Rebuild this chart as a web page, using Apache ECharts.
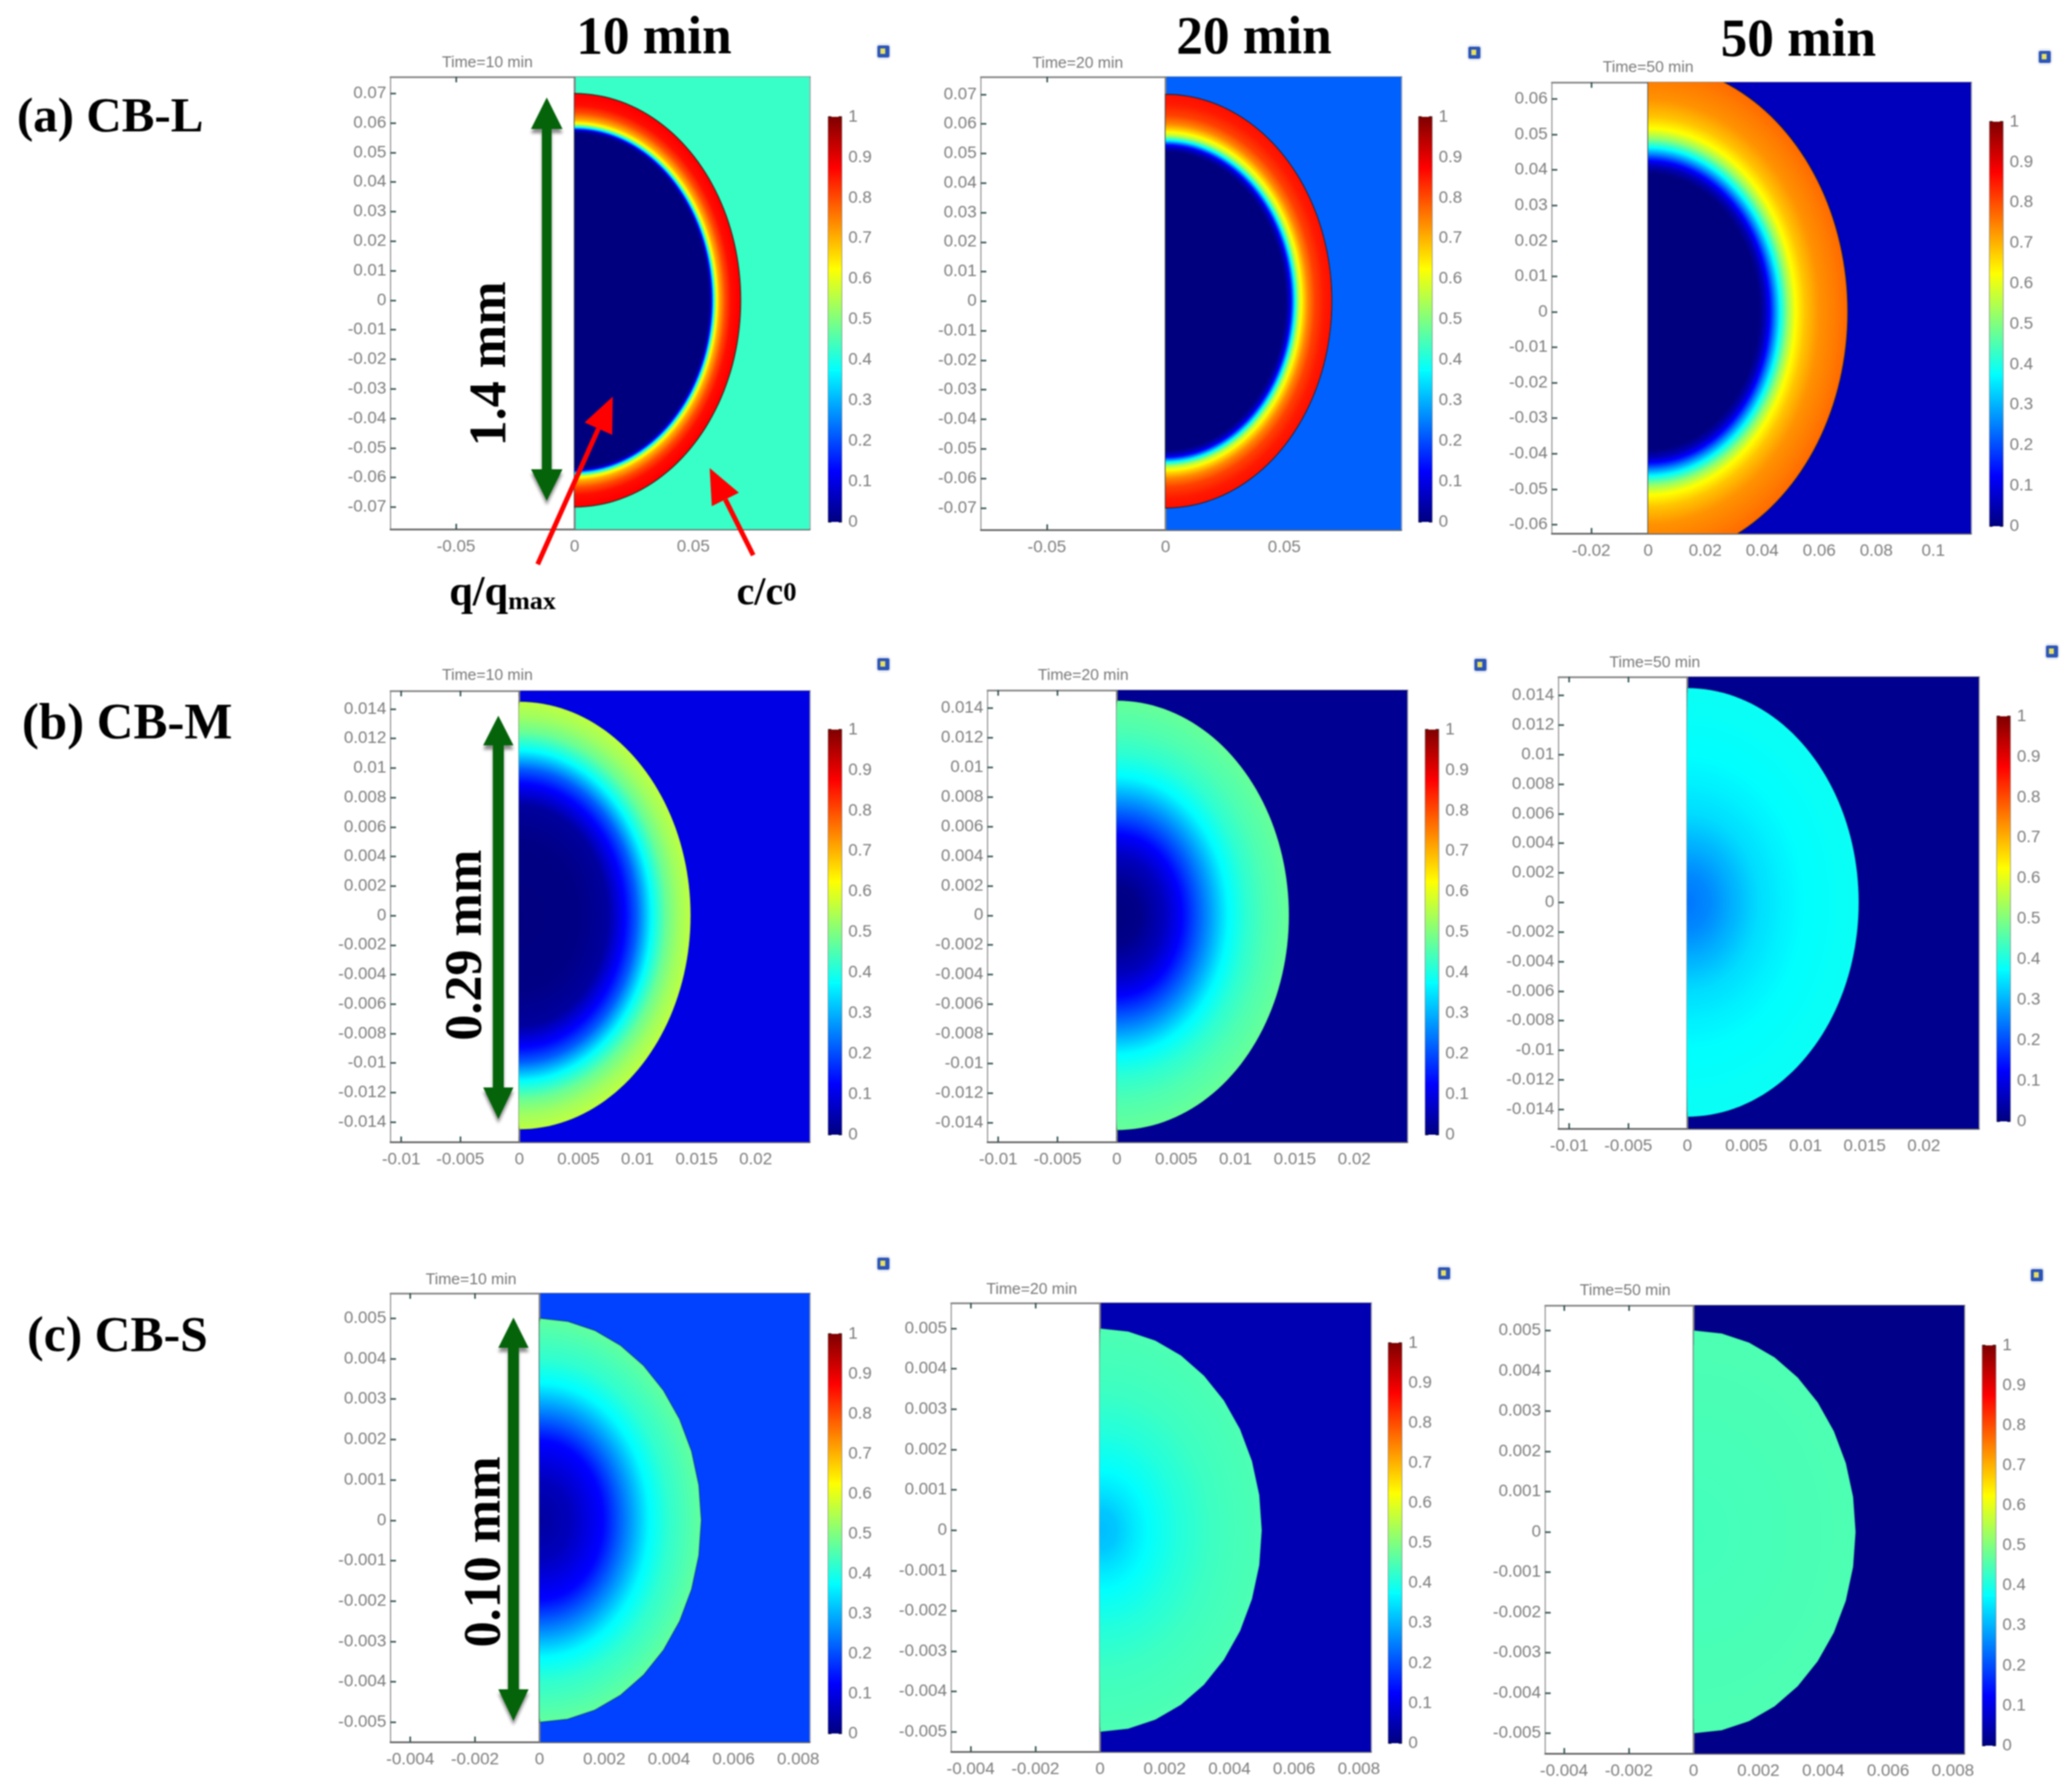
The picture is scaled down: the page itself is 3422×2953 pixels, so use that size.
<!DOCTYPE html>
<html>
<head>
<meta charset="utf-8">
<style>html,body{margin:0;padding:0;background:#fff}#c{width:3422px;height:2953px;filter:blur(1px)}</style>
<script src="https://cdn.jsdelivr.net/npm/echarts@6/dist/echarts.min.js"></script>
</head>
<body>
<div id="c"></div>
<script>
// ---- colour scale (value, colour)
const jetStops = [[0,'#00007f'],[0.125,'#0000ff'],[0.375,'#00ffff'],[0.625,'#ffff00'],[0.875,'#ff0000'],[1,'#7f0000']];
const colorbarTicks = [0,0.1,0.2,0.3,0.4,0.5,0.6,0.7,0.8,0.9,1];

// ---- tick labels
const xTicksA10 = [-0.05,0,0.05];
const yTicksA   = [-0.07,-0.06,-0.05,-0.04,-0.03,-0.02,-0.01,0,0.01,0.02,0.03,0.04,0.05,0.06,0.07];
const xTicksA50 = [-0.02,0,0.02,0.04,0.06,0.08,0.1];
const yTicksA50 = [-0.06,-0.05,-0.04,-0.03,-0.02,-0.01,0,0.01,0.02,0.03,0.04,0.05,0.06];
const xTicksB   = [-0.01,-0.005,0,0.005,0.01,0.015,0.02];
const yTicksB   = [-0.014,-0.012,-0.01,-0.008,-0.006,-0.004,-0.002,0,0.002,0.004,0.006,0.008,0.01,0.012,0.014];
const xTicksC   = [-0.004,-0.002,0,0.002,0.004,0.006,0.008];
const yTicksC   = [-0.005,-0.004,-0.003,-0.002,-0.001,0,0.001,0.002,0.003,0.004,0.005];

// ---- q/qmax radial profiles: [radius, value], outermost first
const profileA10 = [[0.07,0.88],[0.066,0.86],[0.0635,0.8],[0.061,0.7],[0.0597,0.6],[0.0585,0.35],[0.0575,0.07],[0.0565,0],[0,0]];
const profileA20 = [[0.07,0.86],[0.067,0.85],[0.063,0.81],[0.06,0.74],[0.058,0.66],[0.056,0.55],[0.0545,0.37],[0.053,0.15],[0.052,0.06],[0.0505,0],[0,0]];
const profileA50 = [[0.07,0.77],[0.06,0.73],[0.055,0.68],[0.0516,0.62],[0.049,0.52],[0.0463,0.37],[0.044,0.22],[0.0425,0.12],[0.041,0.05],[0.039,0],[0,0]];
const profileB10 = [[0.0145,0.56],[0.0135,0.53],[0.0125,0.48],[0.0112,0.37],[0.01,0.22],[0.009,0.13],[0.0075,0.03],[0.005,0.005],[0,0]];
const profileB20 = [[0.0145,0.475],[0.0125,0.45],[0.011,0.42],[0.0094,0.37],[0.0075,0.25],[0.0055,0.125],[0.004,0.06],[0.002,0.01],[0,0]];
const profileB50 = [[0.0145,0.385],[0.01,0.375],[0.008,0.36],[0.006,0.34],[0.004,0.3],[0.002,0.26],[0,0.24]];
const profileC10 = [[0.005,0.47],[0.004,0.42],[0.0034,0.37],[0.0027,0.25],[0.002,0.13],[0.001,0.06],[0,0.03]];
const profileC20 = [[0.005,0.45],[0.0035,0.435],[0.0025,0.41],[0.0015,0.375],[0.001,0.35],[0.0005,0.32],[0,0.31]];
const profileC50 = [[0.005,0.45],[0,0.44]];

// ---- c/c0 (bulk) values
const bulkA = [0.43,0.22,0.06];
const bulkB = [0.1,0.02,0.015];
const bulkC = [0.19,0.05,0.01];

// ---- text
const timeLabels = ['Time=10 min','Time=20 min','Time=50 min'];
const columnHeads = ['10 min','20 min','50 min'];
const rowHeads = ['(a) CB-L','(b) CB-M','(c) CB-S'];
const sizeLabels = ['1.4 mm','0.29 mm','0.10 mm'];

// ---- layout of each panel in page pixels; range = axis extents
const panels = [
 {g:[645,127,1337,874], r:[-0.0776,0.099,-0.0775,0.0756], xt:xTicksA10,yt:yTicksA,p:profileA10,b:bulkA[0],cb:[1368,193,1390,862],ic:[1459,85],t:[800,99,0],seg:90,edge:0.65},
 {g:[1620,127,2314,875],r:[-0.0778,0.0992,-0.0774,0.0759],xt:xTicksA10,yt:yTicksA,p:profileA20,b:bulkA[1],cb:[2343,193,2365,862],ic:[2435,87],t:[1775,100,1],seg:90,edge:0.65},
 {g:[2563,136,3255,881],r:[-0.0338,0.1132,-0.0625,0.0647],xt:xTicksA50,yt:yTicksA50,p:profileA50,b:bulkA[2],cb:[3286,201,3308,869],ic:[3377,94],t:[2717,107,2],seg:90,edge:0.55},
 {g:[645,1141,1337,1886],r:[-0.0109,0.02456,-0.01535,0.01523],xt:xTicksB,yt:yTicksB,p:profileB10,b:bulkB[0],cb:[1368,1205,1390,1874],ic:[1459,1097],t:[800,1111,0],seg:90,edge:0.2},
 {g:[1631,1140,2324,1886],r:[-0.0109,0.02446,-0.0153,0.0152],xt:xTicksB,yt:yTicksB,p:profileB20,b:bulkB[1],cb:[2354,1205,2376,1874],ic:[2445,1098],t:[1784,1111,1],seg:90,edge:0.15},
 {g:[2574,1118,3268,1864],r:[-0.0109,0.02465,-0.0153,0.01525],xt:xTicksB,yt:yTicksB,p:profileB50,b:bulkB[2],cb:[3298,1183,3320,1852],ic:[3389,1076],t:[2728,1090,2],seg:90,edge:0.15},
 {g:[645,2136,1337,2877],r:[-0.00461,0.00835,-0.00549,0.00562],xt:xTicksC,yt:yTicksC,p:profileC10,b:bulkC[0],cb:[1368,2203,1390,2863],ic:[1459,2087],t:[773,2109,0],seg:18,edge:0.35},
 {g:[1571,2152,2264,2893],r:[-0.0046,0.00837,-0.00549,0.00563],xt:xTicksC,yt:yTicksC,p:profileC20,b:bulkC[1],cb:[2293,2218,2315,2879],ic:[2385,2103],t:[1699,2125,1],seg:18,edge:0.15},
 {g:[2552,2156,3244,2896],r:[-0.00458,0.00835,-0.0055,0.00562],xt:xTicksC,yt:yTicksC,p:profileC50,b:bulkC[2],cb:[3274,2222,3296,2883],ic:[3364,2106],t:[2679,2127,2],seg:18,edge:0.15}
];

function hex(c){return [parseInt(c.slice(1,3),16),parseInt(c.slice(3,5),16),parseInt(c.slice(5,7),16)];}
function jet(v){
  v=Math.max(0,Math.min(1,v));
  for(let i=1;i<jetStops.length;i++){
    if(v<=jetStops[i][0]){
      const a=jetStops[i-1],b=jetStops[i],t=(v-a[0])/(b[0]-a[0]),A=hex(a[1]),B=hex(b[1]);
      return 'rgb('+A.map((x,k)=>Math.round(x+(B[k]-x)*t)).join(',')+')';
    }
  }
  return jetStops[jetStops.length-1][1];
}
const SANS="'Liberation Sans',sans-serif", SERIF="'Liberation Serif',serif";
const labelStyle={color:'#7e7e7e',fontFamily:SANS,fontSize:28};

const grid=[],xAxis=[],yAxis=[],series=[],title=[],graphic=[];

panels.forEach((P,n)=>{
  const gi=grid.length, xi=xAxis.length, yi=yAxis.length, [l,t,ri,bo]=P.g, [x0,x1,y0,y1]=P.r;
  grid.push({left:l,top:t,width:ri-l,height:bo-t,containLabel:false});
  const tick=(vals,len)=>({show:true,inside:true,length:len,customValues:vals,lineStyle:{color:'#2a4a4a',width:2.5}});
  xAxis.push({type:'value',gridIndex:gi,min:x0,max:x1,position:'bottom',
    axisLine:{show:true,onZero:false,lineStyle:{color:'#6a6a6a',width:3}},axisTick:tick(P.xt,9),
    axisLabel:Object.assign({show:true,customValues:P.xt,margin:15},labelStyle),splitLine:{show:false}});
  xAxis.push({type:'value',gridIndex:gi,min:x0,max:x1,position:'top',
    axisLine:{show:true,onZero:false,lineStyle:{color:'#8a8a8a',width:3}},axisTick:tick(P.xt,9),axisLabel:{show:false},splitLine:{show:false}});
  yAxis.push({type:'value',gridIndex:gi,min:y0,max:y1,position:'left',
    axisLine:{show:true,onZero:false,lineStyle:{color:'#9a9a9a',width:2}},axisTick:tick(P.yt,9),
    axisLabel:Object.assign({show:true,customValues:P.yt,margin:7},labelStyle),splitLine:{show:false}});
  yAxis.push({type:'value',gridIndex:gi,min:y0,max:y1,position:'right',
    axisLine:{show:true,onZero:false,lineStyle:{color:'#aaaaaa',width:3}},axisTick:tick(P.yt,9),axisLabel:{show:false},splitLine:{show:false}});

  // bulk c/c0 rectangle right of the axis of symmetry
  series.push({type:'custom',name:'c/c0',xAxisIndex:xi,yAxisIndex:yi,clip:true,z:1,silent:true,data:[[P.b]],
    renderItem(params,api){
      const a=api.coord([0,y1]),b=api.coord([x1,y0]);
      return {type:'group',children:[
        {type:'rect',shape:{x:a[0],y:a[1],width:b[0]-a[0],height:b[1]-a[1]},style:{fill:jet(api.value(0))}},
        {type:'line',shape:{x1:a[0],y1:a[1],x2:a[0],y2:b[1]},style:{stroke:'#7c7c7c',lineWidth:3}}
      ]};
    }});
  // q/qmax half disc: discs painted from the outer radius inward
  const prof=P.p;
  series.push({type:'custom',name:'q/qmax',xAxisIndex:xi,yAxisIndex:yi,clip:true,z:2,silent:true,data:prof,
    renderItem(params,api){
      const i=params.dataIndex, r=prof[i][0], q=prof[i][1], nx=prof[i+1];
      if(!nx) return {type:'group',children:[]};
      const ch=[], bands=(nx[1]===q)?1:14;
      for(let k=0;k<bands;k++){
        const rk=r+(nx[0]-r)*k/bands, qk=q+(nx[1]-q)*k/bands;
        const seg=(i===0&&k===0)?P.seg:90, pts=[];
        for(let s=0;s<=seg;s++){
          const th=-Math.PI/2+Math.PI*s/seg;
          pts.push(api.coord([rk*Math.cos(th),rk*Math.sin(th)]));
        }
        const outer=(i===0&&k===0);
        ch.push({type:'polygon',shape:{points:pts},style:{fill:jet(qk),stroke:outer?'rgba(10,30,20,'+P.edge+')':null,lineWidth:outer?2:0}});
      }
      return {type:'group',children:ch};
    }});

  // colour bar
  const [cl,ct,cr,cb]=P.cb, g2=grid.length, x2=xAxis.length, y2=yAxis.length;
  grid.push({left:cl,top:ct,width:cr-cl,height:cb-ct});
  xAxis.push({type:'value',gridIndex:g2,min:0,max:1,show:false});
  yAxis.push({type:'value',gridIndex:g2,min:0,max:1,position:'right',
    axisLine:{show:true,onZero:false,lineStyle:{color:'#8a8a8a',width:2}},
    axisTick:{show:true,inside:true,length:5,customValues:colorbarTicks,lineStyle:{color:'#222',width:2}},
    axisLabel:Object.assign({show:true,customValues:colorbarTicks,margin:11},labelStyle),splitLine:{show:false}});
  yAxis.push({type:'value',gridIndex:g2,min:0,max:1,position:'left',
    axisLine:{show:true,onZero:false,lineStyle:{color:'#8a8a8a',width:2}},
    axisTick:{show:true,inside:true,length:5,customValues:colorbarTicks,lineStyle:{color:'#222',width:2}},axisLabel:{show:false},splitLine:{show:false}});
  series.push({type:'custom',name:'colorbar',xAxisIndex:x2,yAxisIndex:y2,clip:true,z:1,silent:true,data:jetStops.map(s=>[s[0]]),
    renderItem(params,api){
      const i=params.dataIndex, nx=jetStops[i+1];
      if(!nx) return {type:'group',children:[]};
      const a=api.coord([0,nx[0]]),b=api.coord([1,jetStops[i][0]]);
      return {type:'rect',shape:{x:a[0],y:a[1],width:b[0]-a[0],height:b[1]-a[1]+0.5},
        style:{fill:new echarts.graphic.LinearGradient(0,1,0,0,[{offset:0,color:jetStops[i][1]},{offset:1,color:nx[1]}])}};
    }});

  // time caption
  title.push({text:timeLabels[P.t[2]],left:P.t[0],top:P.t[1],textAlign:'center',textVerticalAlign:'middle',
    textStyle:{color:'#7a7a7a',fontFamily:SANS,fontSize:26,fontWeight:'normal'}});

  // small window icon
  const [ix,iy]=P.ic;
  graphic.push({type:'rect',z:100,shape:{x:ix-13,y:iy-14,width:26,height:28,r:8},style:{fill:'#eceef2'},silent:true});
  graphic.push({type:'rect',z:101,shape:{x:ix-10,y:iy-10,width:20,height:20,r:3},style:{fill:'#2c55b8'},silent:true});
  graphic.push({type:'rect',z:102,shape:{x:ix-5,y:iy-5,width:8,height:9},style:{fill:'#e8e060'},silent:true});
});

// headers
const bold=(s,x,y,size)=>({text:s,left:x,top:y,textAlign:'center',textVerticalAlign:'middle',
  textStyle:{color:'#000',fontFamily:SERIF,fontWeight:'bold',fontSize:size}});
title.push(bold(columnHeads[0],1075,60,88),bold(columnHeads[1],2066,60,88),bold(columnHeads[2],2965,64,88));
title.push(bold(rowHeads[0],177,191,81),bold(rowHeads[1],205,1193,84),bold(rowHeads[2],189,2205,82));

// green size arrows: [x, topTip, topBase, bottomBase, bottomTip, halfHead, halfShaft]
const sizeArrows=[[903,161,213,775,827,26,8],[823,1182,1231,1796,1848,25,9],[848,2176,2226,2790,2842,25,9]];
sizeArrows.forEach(a=>{
  const [x,t,tb,bb,bt,h,s]=a;
  graphic.push({type:'polygon',z:100,silent:true,shape:{points:[[x,t],[x+h,tb],[x+s,tb],[x+s,bb],[x+h,bb],[x,bt],[x-h,bb],[x-s,bb],[x-s,tb],[x-h,tb]]},
    style:{fill:'#05640a',shadowColor:'rgba(0,0,0,0.45)',shadowBlur:5,shadowOffsetY:7}});
});
// rotated size labels: [cx, cy]
const sizeLabelPos=[[812,601],[772,1561],[803,2563]];
sizeLabelPos.forEach((a,i)=>{
  graphic.push({type:'text',z:100,silent:true,x:a[0],y:a[1],rotation:Math.PI/2,
    style:{text:sizeLabels[i],fill:'#000',font:"bold 86px 'Liberation Serif',serif",align:'center',verticalAlign:'middle'}});
});
// red pointers: [fromX, fromY, tipX, tipY]
const redPointers=[[888,932,1012,655],[1244,917,1172,773]];
redPointers.forEach(p=>{
  const [x0,y0,x1,y1]=p, L=Math.hypot(x1-x0,y1-y0), ux=(x1-x0)/L, uy=(y1-y0)/L, hl=58, hw=25;
  const bx=x1-ux*hl, by=y1-uy*hl;
  graphic.push({type:'line',z:100,silent:true,shape:{x1:x0,y1:y0,x2:bx,y2:by},style:{stroke:'#ff0000',lineWidth:8}});
  graphic.push({type:'polygon',z:100,silent:true,shape:{points:[[x1,y1],[bx-uy*hw,by+ux*hw],[bx+uy*hw,by-ux*hw]]},style:{fill:'#ff0000'}});
});
// series labels under the first panel
graphic.push({type:'text',z:100,silent:true,x:830,y:981,style:{
  rich:{a:{font:"bold 70px 'Liberation Serif',serif",fill:'#000'},b:{font:"bold 43px 'Liberation Serif',serif",fill:'#000',verticalAlign:'bottom'}},
  text:'{a|q/q}{b|max}',align:'center',verticalAlign:'middle'}});
graphic.push({type:'text',z:100,silent:true,x:1266,y:981,style:{
  rich:{a:{font:"bold 66px 'Liberation Serif',serif",fill:'#000'},b:{font:"bold 44px 'Liberation Serif',serif",fill:'#000'}},
  text:'{a|c/c}{b|0}',align:'center',verticalAlign:'middle'}});

const chart=echarts.init(document.getElementById('c'),null,{width:3422,height:2953,devicePixelRatio:1});
chart.setOption({animation:false,backgroundColor:'#fff',title,grid,xAxis,yAxis,series,graphic});
</script>
</body>
</html>
